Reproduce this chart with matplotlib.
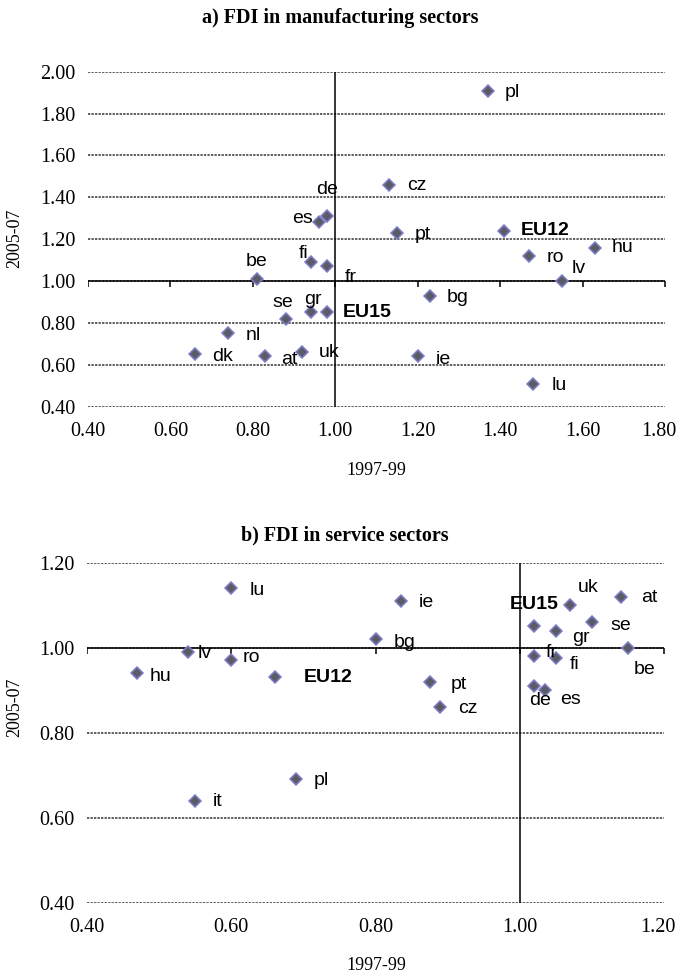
import numpy as np
import matplotlib
matplotlib.use("Agg")
import matplotlib.pyplot as plt
import matplotlib.transforms as mtrans

# a) manufacturing: 1997-99 (x) vs 2005-07 (y)
names_a = ['pl', 'cz', 'de', 'es', 'pt', 'EU12', 'hu', 'ro', 'lv', 'be', 'fi',
           'fr', 'bg', 'gr', 'EU15', 'se', 'nl', 'dk', 'at', 'uk', 'ie', 'lu']
x_a = [1.37, 1.13, 0.98, 0.96, 1.15, 1.41, 1.63, 1.47, 1.55, 0.81, 0.94,
       0.98, 1.23, 0.94, 0.98, 0.88, 0.74, 0.66, 0.83, 0.92, 1.20, 1.48]
y_a = [1.91, 1.46, 1.31, 1.28, 1.23, 1.24, 1.16, 1.12, 1.00, 1.01, 1.09,
       1.07, 0.93, 0.85, 0.85, 0.82, 0.75, 0.65, 0.64, 0.66, 0.64, 0.51]

# b) services
names_b = ['lu', 'ie', 'bg', 'lv', 'ro', 'hu', 'EU12', 'pt', 'cz', 'pl', 'it',
           'EU15', 'gr', 'uk', 'se', 'at', 'be', 'fr', 'fi', 'de', 'es']
x_b = [0.60, 0.835, 0.80, 0.54, 0.60, 0.47, 0.66, 0.875, 0.89, 0.69, 0.55,
       1.02, 1.05, 1.07, 1.10, 1.14, 1.15, 1.02, 1.05, 1.02, 1.035]
y_b = [1.14, 1.11, 1.02, 0.99, 0.97, 0.94, 0.93, 0.92, 0.86, 0.69, 0.64,
       1.05, 1.04, 1.10, 1.06, 1.12, 1.00, 0.98, 0.975, 0.91, 0.90]

xticks_a = [0.40, 0.60, 0.80, 1.00, 1.20, 1.40, 1.60, 1.80]
yticks_a = [0.40, 0.60, 0.80, 1.00, 1.20, 1.40, 1.60, 1.80, 2.00]
xticks_b = [0.40, 0.60, 0.80, 1.00, 1.20]
yticks_b = [0.40, 0.60, 0.80, 1.00, 1.20]

# label placement: (dx px, dy px downward, ha)
lab_a = {'pl': (17, 2, 'left'), 'cz': (18, 1, 'left'), 'de': (0, -27, 'center'),
         'es': (-6, -4, 'right'), 'pt': (18, 2, 'left'), 'EU12': (16, 0, 'left'),
         'hu': (17, 0, 'left'), 'ro': (18, 2, 'left'), 'lv': (10, -13, 'left'),
         'be': (0, -17, 'center'), 'fi': (-7, -9, 'center'), 'fr': (18, 11, 'left'),
         'bg': (17, 2, 'left'), 'gr': (2, -13, 'center'), 'EU15': (16, 0, 'left'),
         'se': (-3, -16, 'center'), 'nl': (18, 2, 'left'), 'dk': (17, 2, 'left'),
         'at': (16, 3, 'left'), 'uk': (16, 0, 'left'), 'ie': (18, 3, 'left'),
         'lu': (19, 2, 'left')}
lab_b = {'lu': (18, 2, 'left'), 'ie': (18, 2, 'left'), 'bg': (18, 3, 'left'),
         'lv': (10, 2, 'left'), 'ro': (11, -3, 'left'), 'hu': (12, 3, 'left'),
         'EU12': (29, 0, 'left'), 'pt': (21, 3, 'left'), 'cz': (18, 1, 'left'),
         'pl': (18, 1, 'left'), 'it': (18, 1, 'left'), 'EU15': (0, -22, 'center'),
         'gr': (16, 7, 'left'), 'uk': (8, -18, 'left'), 'se': (19, 3, 'left'),
         'at': (20, 1, 'left'), 'be': (6, 22, 'left'), 'fr': (12, -4, 'left'),
         'fi': (14, 6, 'left'), 'de': (6, 15, 'center'), 'es': (15, 9, 'left')}

SERIF = 'Liberation Serif'
SANS = 'Liberation Sans'


def panel(fig, ax, names, xs, ys, xticks, yticks, labels):
    xmin, xmax = xticks[0], xticks[-1]
    ymin, ymax = yticks[0], yticks[-1]
    for yt in yticks:
        ax.plot([xmin, xmax], [yt, yt], color='#333333', lw=1.1,
                ls=(0, (1.5, 0.8)), zorder=1)
    ax.plot([xmin, xmax], [1.0, 1.0], color='k', lw=1.1, zorder=2)
    ax.plot([1.0, 1.0], [ymin, ymax], color='k', lw=1.1, zorder=2)
    ax.plot(xticks, [1.0] * len(xticks), ls='none', marker=3, ms=4.5,
            mew=1.1, color='k', zorder=2)
    ax.plot(xs, ys, ls='none', marker='D', ms=6.2, mfc='#5b5b66',
            mec='#7c7cc8', mew=1.1, zorder=3)
    for n, x, y in zip(names, xs, ys):
        dx, dy, ha = labels[n]
        ax.annotate(n, (x, y), xytext=(dx, -dy), textcoords='offset pixels',
                    ha=ha, va='center', fontsize=14, family=SANS,
                    fontweight='bold' if n.startswith('EU') else 'normal')
    ax.set_xlim(xmin, xmax)
    ax.set_ylim(ymin, ymax)
    ax.set_xticks(xticks)
    ax.set_yticks(yticks)
    ax.set_xticklabels(['%.2f' % t for t in xticks], family=SERIF, fontsize=14.5)
    ax.set_yticklabels(['%.2f' % t for t in yticks], family=SERIF, fontsize=14.5)
    ax.tick_params(axis='both', length=0)
    ax.tick_params(axis='x', pad=11)
    ax.tick_params(axis='y', pad=9)
    # last x label sits against the figure edge, pull it in a little
    last = ax.get_xticklabels()[-1]
    last.set_transform(last.get_transform() +
                       mtrans.ScaledTranslation(-6 / 100, 0, fig.dpi_scale_trans))
    for s in ax.spines.values():
        s.set_visible(False)


W, H = 681, 975
fig = plt.figure(figsize=(W / 100, H / 100), dpi=100)

ax1 = fig.add_axes([88 / W, 1 - 406.7 / H, 577 / W, 335 / H])
panel(fig, ax1, names_a, x_a, y_a, xticks_a, yticks_a, lab_a)

ax2 = fig.add_axes([87 / W, 1 - 902.7 / H, 577 / W, 340 / H])
panel(fig, ax2, names_b, x_b, y_b, xticks_b, yticks_b, lab_b)

fig.text(340 / W, 1 - 18 / H, 'a) FDI in manufacturing sectors', ha='center',
         va='center', family=SERIF, fontweight='bold', fontsize=14.5)
fig.text(345 / W, 1 - 535 / H, 'b) FDI in service sectors', ha='center',
         va='center', family=SERIF, fontweight='bold', fontsize=14.5)
fig.text(376 / W, 1 - 470 / H, '1997-99', ha='center', va='center',
         family=SERIF, fontsize=13)
fig.text(376 / W, 1 - 965 / H, '1997-99', ha='center', va='center',
         family=SERIF, fontsize=13)
fig.text(15 / W, 1 - 238 / H, '2005-07', ha='center', va='center',
         rotation=90, family=SERIF, fontsize=13)
fig.text(15 / W, 1 - 707 / H, '2005-07', ha='center', va='center',
         rotation=90, family=SERIF, fontsize=13)

fig.savefig('out.png', dpi=100)
